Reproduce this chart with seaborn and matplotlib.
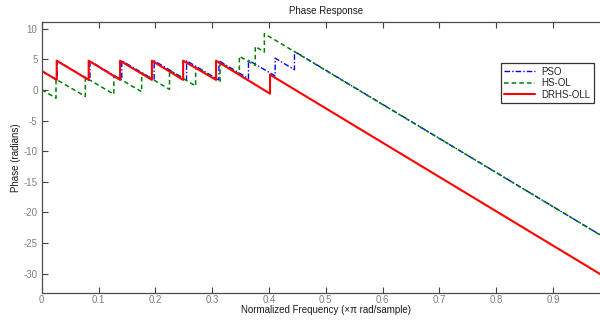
import matplotlib
matplotlib.use("Agg")
import matplotlib.pyplot as plt
import seaborn as sns
import pandas as pd

# ---- data (vertices) ----
pso_f = [0, 0.0275, 0.0275, 0.085, 0.085, 0.141, 0.141, 0.198, 0.198, 0.255, 0.255,
         0.312, 0.312, 0.364, 0.364, 0.411, 0.411, 0.445, 0.445, 1.0]
pso_p = [3.1, 1.59, 4.73, 1.57, 4.71, 1.63, 4.77, 1.63, 4.77, 1.63, 4.77,
         1.63, 4.77, 1.85, 4.85, 2.3, 5.2, 3.3, 6.3, -24.6]

hs_f = [0, 0.0252, 0.0252, 0.0768, 0.0768, 0.127, 0.127, 0.176, 0.176, 0.225, 0.225,
        0.271, 0.271, 0.314, 0.314, 0.348, 0.348, 0.376, 0.376, 0.392, 0.392, 1.0]
hs_p = [0.05, -1.34, 1.75, -1.05, 2.05, -0.7, 2.4, -0.3, 2.8, 0.1, 3.2,
        0.65, 3.75, 1.4, 4.5, 2.6, 5.5, 4.0, 7.1, 6.2, 9.2, -24.6]

drhs_f = [0, 0.0264, 0.0264, 0.0827, 0.0827, 0.138, 0.138, 0.194, 0.194, 0.249, 0.249,
          0.307, 0.307, 0.402, 0.402, 1.0]
drhs_p = [3.1, 1.65, 4.78, 1.65, 4.78, 1.65, 4.78, 1.65, 4.78, 1.65, 4.78,
          1.65, 4.78, -0.6, 2.5, -31.0]

x_ticks = [0, 0.1, 0.2, 0.3, 0.4, 0.5, 0.6, 0.7, 0.8, 0.9]
x_tick_labels = ["0", "0.1", "0.2", "0.3", "0.4", "0.5", "0.6", "0.7", "0.8", "0.9"]
y_ticks = [-30, -25, -20, -15, -10, -5, 0, 5, 10]

sns.set_theme(style="white")
plt.rcParams["font.family"] = ["Liberation Sans", "DejaVu Sans"]
plt.rcParams["axes.unicode_minus"] = False

fig = plt.figure(figsize=(6, 3.2), dpi=100)
ax = fig.add_axes([41.7 / 600, 27.3 / 320, 568 / 600, 270.7 / 320])

series = [
    ("PSO", pso_f, pso_p, "#0000ff", (0, (4, 1.5, 1, 1.5)), 1.0),
    ("HS-OL", hs_f, hs_p, "#008000", (0, (3, 2)), 1.1),
    ("DRHS-OLL", drhs_f, drhs_p, "#ff0000", "-", 1.5),
]
for name, f, p, c, ls, lw in series:
    df = pd.DataFrame({"f": f, "p": p})
    sns.lineplot(data=df, x="f", y="p", sort=False, estimator=None, ax=ax,
                 color=c, linestyle=ls, linewidth=lw, label=name)

ax.set_xlim(0, 1)
ax.set_ylim(-33.1, 11.1)
ax.set_xticks(x_ticks)
ax.set_xticklabels(x_tick_labels)
ax.set_yticks(y_ticks)
ax.tick_params(direction="in", length=4, width=0.8, colors="#404040",
               labelcolor="#7f7f7f", labelsize=7, top=True, right=True,
               bottom=True, left=True)
ax.tick_params(axis="x", pad=2)
ax.tick_params(axis="y", pad=3)
for s in ax.spines.values():
    s.set_color("#4d4d4d")
    s.set_linewidth(0.9)

ax.set_title("Phase Response", fontsize=7, color="#1a1a1a", pad=6)
ax.set_xlabel("Normalized Frequency (\u00d7\u03c0 rad/sample)", fontsize=7, color="#1a1a1a", labelpad=0)
ax.set_ylabel("Phase (radians)", fontsize=7, color="#1a1a1a", labelpad=2)

leg = ax.legend(loc="upper left", bbox_to_anchor=(459 / 568, 1 - 41.3 / 270.7),
                fontsize=7, frameon=True, fancybox=False, handlelength=3.2,
                borderpad=0.35, labelspacing=0.15, handletextpad=0.6, borderaxespad=0)
leg.get_frame().set_edgecolor("black")
leg.get_frame().set_linewidth(0.9)

fig.savefig("out.png", dpi=100)
